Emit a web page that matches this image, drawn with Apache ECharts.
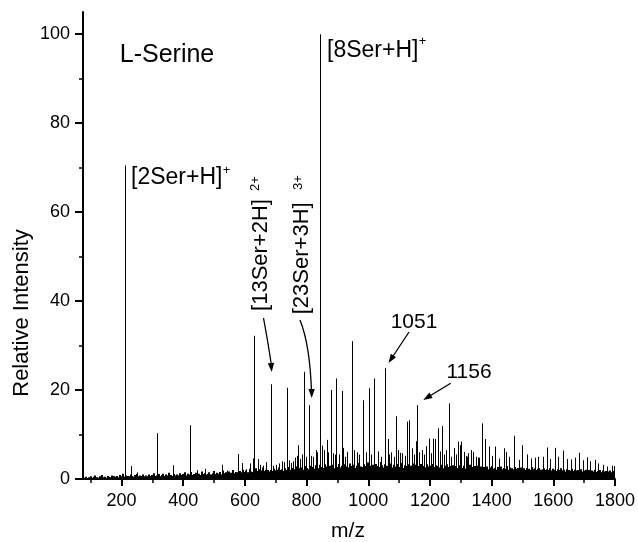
<!DOCTYPE html>
<html>
<head>
<meta charset="utf-8">
<script src="https://cdn.jsdelivr.net/npm/echarts@6/dist/echarts.min.js"></script>
<style>
html,body{margin:0;padding:0;background:#fff;}
#chart{width:638px;height:542px;}
</style>
</head>
<body>
<div id="chart"></div>
<script>
// ---- axis ticks / labels ----
const xMajorTicks = [200, 400, 600, 800, 1000, 1200, 1400, 1600, 1800];
const xMinorTicks = [100, 300, 500, 700, 900, 1100, 1300, 1500, 1700];
const yMajorTicks = [0, 20, 40, 60, 80, 100];
const yMinorTicks = [10, 30, 50, 70, 90];

// ---- baseline (noise) intensities, read on an m/z grid from 80 to 1800, every 5 ----
const noiseStartMz = 80;
const noiseStepMz = 5;
const noise = [
  0.3,0.5,0.2,0.4,0.6,0.3,0.5,0.8,0.4,0.3,0.6,0.9,0.4,0.5,0.3,0.7,0.5,0.4,0.8,0.6,
  0.5,0.7,0.4,0.9,0.6,1.2,0.5,0.8,0.7,0.6,1.0,0.7,0.5,0.9,1.1,0.6,0.8,0.7,1.0,0.6,
  0.8,0.6,1.0,0.7,0.9,1.3,0.7,0.8,1.1,0.6,0.9,1.2,0.7,1.0,0.8,1.4,0.9,0.7,1.1,0.8,
  1.0,0.8,1.3,0.9,1.1,1.5,0.8,1.2,1.0,1.6,0.9,1.1,1.4,1.0,1.2,0.9,1.7,1.1,1.3,1.0,
  1.2,1.5,1.0,1.3,1.8,1.1,1.4,1.2,1.6,1.0,1.9,1.3,1.5,1.2,1.7,1.4,2.0,1.3,1.6,1.5,
  1.4,1.8,1.5,2.1,1.6,1.9,1.5,2.3,1.7,1.6,2.0,2.4,1.8,1.7,2.2,1.9,2.6,1.8,2.1,2.0,
  1.7,2.0,1.8,2.3,1.9,2.1,2.6,2.0,2.2,1.8,2.4,2.0,2.7,2.1,1.9,2.5,2.2,2.8,2.0,2.4,
  2.2,2.6,2.1,2.9,2.4,2.2,3.0,2.5,2.7,2.3,3.1,2.6,2.4,3.2,2.7,2.5,3.3,2.8,2.6,3.0,
  2.5,3.2,2.4,2.9,2.7,3.4,2.6,3.0,2.5,3.3,2.8,2.6,3.5,2.9,2.7,3.2,2.5,3.0,3.6,2.8,
  2.7,3.3,2.9,2.6,3.7,3.0,2.8,3.2,2.5,3.4,2.9,2.7,3.8,3.1,2.6,3.3,3.0,2.8,3.5,2.9,
  2.6,3.2,2.8,3.4,2.7,3.0,3.6,2.5,3.1,2.9,3.3,2.7,3.0,3.5,2.6,3.2,2.8,2.9,3.4,2.7,
  2.9,2.6,3.3,2.8,3.0,2.5,3.4,2.7,3.1,2.9,2.6,3.2,2.8,2.4,3.0,3.3,2.7,2.9,2.5,3.1,
  2.6,2.9,2.4,3.1,2.7,2.5,3.0,2.3,2.8,2.6,3.2,2.4,2.7,2.9,2.3,3.0,2.5,2.8,2.2,2.7,
  2.4,2.8,2.2,2.6,2.9,2.3,2.5,2.1,2.7,2.4,2.8,2.2,2.5,2.3,2.9,2.1,2.6,2.4,2.2,2.7,
  2.3,2.5,2.1,2.6,2.2,2.4,2.0,2.5,2.3,2.1,2.7,2.2,2.4,2.0,2.3,2.5,2.1,2.2,2.4,2.0,
  2.2,2.0,2.4,1.9,2.3,2.1,1.8,2.2,2.0,2.4,1.9,2.1,1.7,2.2,2.0,1.9,2.3,1.8,2.1,1.9,
  2.0,1.8,2.2,1.7,1.9,2.1,1.6,2.0,1.8,1.9,1.7,2.1,1.6,1.8,2.0,1.5,1.9,1.7,1.8,1.6,
  1.7,1.9,1.5,1.8,2.6
];

// ---- peaks: [m/z, relative intensity %] ----
const peaks = [
  [211,70.5],[231,2.9],[249,1.5],[316,10.3],[368,3.1],[421,12.1],[444,2.0],[472,2.3],
  [526,3.2],[543,1.9],[577,5.6],[590,3.6],[604,2.2],[615,3.5],[625,4.6],[631,32.2],[642,4.5],
  [650,3.2],[658,3.0],[670,3.8],[684,21.3],[690,3.0],[700,3.2],[710,3.5],[720,4.0],[728,3.8],
  [737,20.5],[744,4.2],[750,3.6],[756,4.0],[763,4.8],[768,5.2],[773,7.6],[780,4.5],[786,5.5],
  [792,24.1],[798,5.0],[808,16.6],[813,5.2],[820,5.0],[830,6.5],[835,6.0],[843,100],[851,7.5],
  [858,6.5],[865,8.8],[870,6.0],[878,20.0],[887,5.8],[892,5.5],[896,22.6],[905,5.5],[914,19.8],
  [919,7.0],[925,5.0],[930,6.1],[948,31.0],[955,6.5],[962,6.0],[970,5.5],[984,17.7],[992,6.0],
  [1001,20.4],[1010,5.5],[1020,22.6],[1030,6.2],[1040,5.0],[1054,24.9],[1063,9.0],[1068,5.5],
  [1075,6.0],[1083,5.0],[1090,14.1],[1097,6.5],[1103,5.9],[1110,5.8],[1118,5.2],[1125,12.9],
  [1133,13.2],[1143,6.9],[1148,5.5],[1154,8.5],[1159,16.6],[1166,6.0],[1173,6.5],[1180,5.5],
  [1187,7.4],[1197,9.1],[1204,5.8],[1211,9.1],[1216,9.0],[1227,11.4],[1232,6.2],[1238,11.9],
  [1245,5.5],[1252,6.5],[1262,17.0],[1268,5.0],[1278,6.9],[1285,5.5],[1292,8.4],[1297,7.6],
  [1301,8.4],[1310,6.1],[1316,5.2],[1320,5.0],[1325,5.8],[1332,6.5],[1341,6.1],[1348,5.0],
  [1355,4.8],[1360,4.8],[1369,12.5],[1380,9.0],[1393,7.3],[1400,5.2],[1411,7.3],[1425,4.6],
  [1440,6.9],[1447,6.1],[1455,5.0],[1472,9.7],[1489,4.3],[1500,7.6],[1515,5.5],[1527,4.6],
  [1540,4.8],[1551,5.0],[1565,5.0],[1580,7.1],[1590,4.5],[1604,7.0],[1615,5.0],[1631,6.4],
  [1645,4.5],[1657,4.4],[1670,4.8],[1684,5.9],[1695,4.2],[1710,4.9],[1720,4.0],[1735,4.3],
  [1745,3.5],[1760,3.2],[1775,2.8],[1790,3.0],[1798,2.9]
];

const FONT = "'Liberation Sans', Arial, Helvetica, sans-serif";

const noiseData = noise.map((h, i) => [noiseStartMz + i * noiseStepMz, h]);

function makeStick(width) {
  return function (params, api) {
    const x = api.value(0), h = api.value(1);
    const p0 = api.coord([x, 0]);
    const p1 = api.coord([x, h]);
    const px = width === 1 ? Math.round(p0[0]) + 0.5 : Math.round(p0[0]);
    return {
      type: 'line',
      shape: { x1: px, y1: p0[1], x2: px, y2: p1[1] },
      style: { stroke: '#000', lineWidth: width }
    };
  };
}

function arrowHead(tx, ty, fx, fy) {
  const dx = tx - fx, dy = ty - fy, L = Math.hypot(dx, dy);
  const ux = dx / L, uy = dy / L;
  const len = 9, w = 3.2;
  const bx = tx - ux * len, by = ty - uy * len;
  return { type: 'polygon', shape: { points: [[tx, ty], [bx - uy * w, by + ux * w], [bx + uy * w, by - ux * w]] }, style: { fill: '#000' } };
}

function txt(x, y, text, size, opts, align) {
  return Object.assign({
    type: 'text', x: x, y: y,
    style: { text: text, fill: '#000', font: size + 'px ' + FONT, align: align || 'center', verticalAlign: 'middle' }
  }, opts || {});
}

const chart = echarts.init(document.getElementById('chart'), null, { renderer: 'canvas' });

const plain = v => String(v);
const axisBase = { type: 'value', splitLine: { show: false } };

chart.setOption({
  animation: false,
  backgroundColor: '#fff',
  grid: { left: 83, right: 23, top: 12, bottom: 63, containLabel: false },
  xAxis: [
    Object.assign({}, axisBase, {
      min: 75, max: 1800, position: 'bottom',
      axisLine: { show: true, onZero: false, lineStyle: { color: '#000', width: 2 } },
      axisTick: { show: true, inside: false, length: 7, customValues: xMajorTicks, lineStyle: { color: '#000', width: 2 } },
      axisLabel: { show: true, customValues: xMajorTicks, formatter: plain, margin: 13, color: '#000', fontSize: 18, fontFamily: FONT }
    }),
    Object.assign({}, axisBase, {
      min: 75, max: 1800, position: 'bottom', offset: 0,
      axisLine: { show: false, onZero: false },
      axisTick: { show: true, inside: false, length: 4, customValues: xMinorTicks, lineStyle: { color: '#000', width: 1.5 } },
      axisLabel: { show: false }
    })
  ],
  yAxis: [
    Object.assign({}, axisBase, {
      min: 0, max: 105, position: 'left',
      axisLine: { show: true, onZero: false, lineStyle: { color: '#000', width: 2 } },
      axisTick: { show: true, inside: false, length: 8, customValues: yMajorTicks, lineStyle: { color: '#000', width: 2 } },
      axisLabel: { show: true, customValues: yMajorTicks, formatter: plain, margin: 13, color: '#000', fontSize: 18, fontFamily: FONT }
    }),
    Object.assign({}, axisBase, {
      min: 0, max: 105, position: 'left', offset: 0,
      axisLine: { show: false, onZero: false },
      axisTick: { show: true, inside: false, length: 4, customValues: yMinorTicks, lineStyle: { color: '#000', width: 1.5 } },
      axisLabel: { show: false }
    })
  ],
  series: [
    { type: 'custom', name: 'baseline', xAxisIndex: 0, yAxisIndex: 0, clip: true,
      encode: { x: 0, y: 1 }, renderItem: makeStick(2), data: noiseData, silent: true },
    { type: 'custom', name: 'peaks', xAxisIndex: 0, yAxisIndex: 0, clip: true,
      encode: { x: 0, y: 1 }, renderItem: makeStick(1), data: peaks, silent: true }
  ],
  graphic: [
    txt(21.5, 313, 'Relative Intensity', 22, { rotation: Math.PI / 2 }),
    txt(348, 531, 'm/z', 21),
    txt(167, 55, 'L-Serine', 25),
    txt(131, 178, '[2Ser+H]', 23, null, 'left'),
    txt(226.5, 170, '+', 13),
    txt(327, 51, '[8Ser+H]', 23, null, 'left'),
    txt(422.5, 41, '+', 13),
    txt(260.5, 255, '[13Ser+2H]', 22, { rotation: Math.PI / 2 }),
    txt(255.5, 183.5, '2+', 13, { rotation: Math.PI / 2 }),
    txt(302.3, 258.3, '[23Ser+3H]', 22, { rotation: Math.PI / 2 }),
    txt(298.3, 182.5, '3+', 13, { rotation: Math.PI / 2 }),
    txt(414, 322, '1051', 21),
    txt(469, 372, '1156', 21),
    { type: 'bezierCurve', shape: { x1: 263.5, y1: 318, cpx1: 268.5, cpy1: 345, x2: 271.5, y2: 366 }, style: { stroke: '#000', lineWidth: 1.3, fill: null } },
    arrowHead(271.7, 372, 269.5, 345),
    { type: 'bezierCurve', shape: { x1: 300, y1: 320, cpx1: 310, cpy1: 345, x2: 311.5, y2: 392 }, style: { stroke: '#000', lineWidth: 1.3, fill: null } },
    arrowHead(311.7, 398, 311.2, 360),
    { type: 'line', shape: { x1: 409, y1: 332, x2: 390.5, y2: 360 }, style: { stroke: '#000', lineWidth: 1.3 } },
    arrowHead(388.5, 363, 409, 332),
    { type: 'line', shape: { x1: 450.7, y1: 383.3, x2: 426, y2: 398.3 }, style: { stroke: '#000', lineWidth: 1.3 } },
    arrowHead(423.3, 400, 450.7, 383.3)
  ]
});
</script>
</body>
</html>
